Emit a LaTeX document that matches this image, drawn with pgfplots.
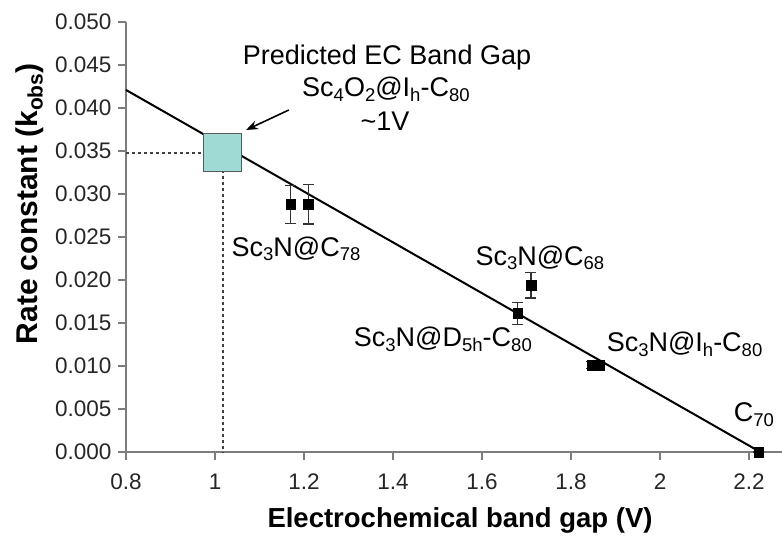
\documentclass[border=0pt]{standalone}
\usepackage{fontspec}
\setmainfont{Liberation Sans}
\usepackage{pgfplots}
\pgfplotsset{compat=1.18}
\usetikzlibrary{arrows.meta}

\definecolor{axisgray}{RGB}{125,125,125}
\definecolor{boxteal}{RGB}{160,218,212}
\newcommand{\lab}{\fontsize{27}{31}\selectfont}
\newcommand{\sub}[1]{\raisebox{-0.3ex}{\fontsize{18.5}{19}\selectfont #1}}
\newcommand{\bsub}[1]{\raisebox{-0.3ex}{\fontsize{21}{21}\selectfont #1}}

\begin{document}
\begin{tikzpicture}
\begin{axis}[
    scale only axis,
    width=656pt, height=430pt,
    xmin=0.8, xmax=2.274,
    ymin=0, ymax=0.05,
    axis x line=bottom,
    axis y line=left,
    axis line style={-, axisgray, line width=1.3pt},
    xtick={0.8,1.0,1.2,1.4,1.6,1.8,2.0,2.2},
    ytick={0,0.005,0.010,0.015,0.020,0.025,0.030,0.035,0.040,0.045,0.050},
    tick style={axisgray, line width=1.2pt},
    tick align=outside,
    major tick length=8pt,
    scaled y ticks=false,
    yticklabel style={xshift=-3pt, /pgf/number format/.cd, fixed, fixed zerofill, precision=3},
    xticklabel style={yshift=-10pt, /pgf/number format/fixed},
    tick label style={font=\fontsize{22.5}{27}\selectfont, text=black!85,
        /pgf/number format/assume math mode=true},
    clip=false,
]
% fitted line
\addplot[black, line width=2pt] coordinates {(0.8,0.0421) (2.225,0)};
% predicted band gap box
\addplot[only marks, mark=square*, mark size=19pt,
    mark options={fill=boxteal, draw=black!65, line width=1.2pt}]
    coordinates {(1.017,0.0348)};
% guide lines to the axes
\addplot[black!75, line width=1.6pt, dash pattern=on 3pt off 3pt]
    coordinates {(0.8,0.0348) (1.018,0.0348) (1.018,0)};
% measured rate constants
\addplot[only marks, mark=square*, mark size=4.8pt, black,
    mark options={line width=0.5pt},
    error bars/.cd, y dir=both, y explicit,
    error bar style={line width=1.3pt, black!80},
    error mark options={rotate=90, mark size=5.5pt, line width=1.3pt, black!80}]
    coordinates {
    (1.17,0.0288) +- (0,0.0022)
    (1.21,0.0288) +- (0,0.0023)
    (1.68,0.0161) +- (0,0.0013)
    (1.71,0.0194) +- (0,0.0015)
    (1.847,0.0101) +- (0,0.0004)
    (1.863,0.0101) +- (0,0.0004)
    (2.222,0.0000) +- (0,0)
    };

\node[anchor=base, font=\lab] at (axis cs:1.3865,0.0450) {Predicted EC Band Gap};
\node[anchor=base, font=\lab] at (axis cs:1.384,0.04128) {Sc\sub{4}O\sub{2}@I\sub{h}-C\sub{80}};
\node[anchor=base, font=\lab] at (axis cs:1.382,0.03744) {\textasciitilde 1V};
\draw[-{Stealth[length=12pt,width=9pt]}, line width=1.6pt]
    (axis cs:1.166,0.03977) -- (axis cs:1.0697,0.03744);

\node[anchor=base, font=\lab] at (axis cs:1.182,0.02279) {Sc\sub{3}N@C\sub{78}};
\node[anchor=base, font=\lab] at (axis cs:1.730,0.02174) {Sc\sub{3}N@C\sub{68}};
\node[anchor=base, font=\lab] at (axis cs:1.512,0.01221) {Sc\sub{3}N@D\sub{5h}-C\sub{80}};
\node[anchor=base, font=\lab] at (axis cs:2.055,0.01163) {Sc\sub{3}N@I\sub{h}-C\sub{80}};
\node[anchor=base, font=\lab] at (axis cs:2.211,0.00349) {C\sub{70}};

\node[rotate=90, font=\bfseries\fontsize{30}{34}\selectfont]
    at ([xshift=-96pt]axis cs:0.8,0.02884) {Rate constant (k\bsub{obs})};
\node[anchor=base, font=\bfseries\fontsize{27.5}{32}\selectfont]
    at ([yshift=-76pt]axis cs:1.5506,0) {Electrochemical band gap (V)};
\end{axis}
\pgfresetboundingbox
\path ([shift={(-126pt,-87pt)}]current axis.south west) rectangle ([shift={(0pt,22pt)}]current axis.north east);
\end{tikzpicture}
\end{document}
